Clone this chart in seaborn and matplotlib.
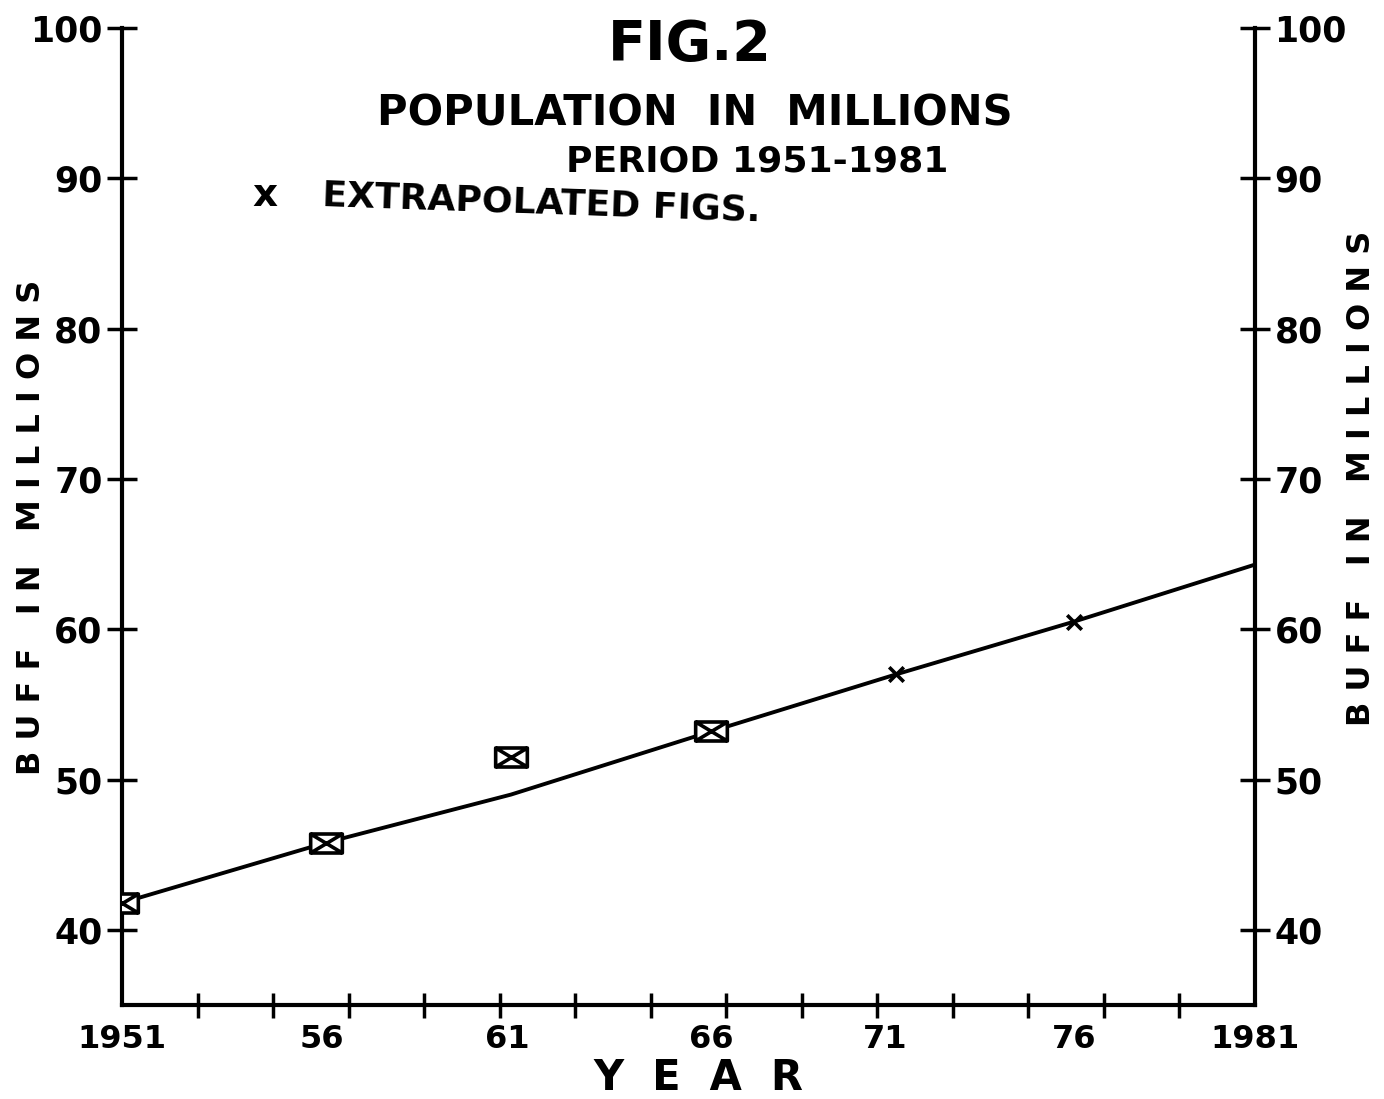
import pandas as pd
import matplotlib.pyplot as plt
from matplotlib.path import Path
import seaborn as sns

# years as they sit on the hand-drawn axis (spacing is a bit uneven)
years = [1951, 1956.4, 1961.3, 1966.6, 1971.5, 1976.2, 1981]
trend = [41.8, 45.8, 49.0, 53.2, 57.0, 60.5, 64.3]

census_years = [1951, 1956.4, 1961.3, 1966.6]
census_values = [41.8, 45.8, 51.5, 53.2]

extra_years = [1971.5, 1976.2]
extra_values = [57.0, 60.5]

year_ticks = [1951, 1956.3, 1961.2, 1966.6, 1971.2, 1976.2, 1981]
year_labels = ["1951", "56", "61", "66", "71", "76", "1981"]
minor_years = list(range(1951, 1982, 2))
y_ticks = [40, 50, 60, 70, 80, 90, 100]

sns.set_style("white")
plt.rcParams["font.family"] = ["DejaVu Sans"]
plt.rcParams["font.weight"] = "bold"
plt.rcParams["text.color"] = "black"
plt.rcParams["xtick.color"] = "black"
plt.rcParams["ytick.color"] = "black"

# box with a cross inside, the census-figure marker
box_x = Path(
    [(-1, -0.6), (1, -0.6), (1, 0.6), (-1, 0.6), (-1, -0.6),
     (-1, -0.6), (1, 0.6), (-1, 0.6), (1, -0.6)],
    [Path.MOVETO, Path.LINETO, Path.LINETO, Path.LINETO, Path.CLOSEPOLY,
     Path.MOVETO, Path.LINETO, Path.MOVETO, Path.LINETO],
)

trend_df = pd.DataFrame({"year": years, "value": trend})
census_df = pd.DataFrame({"year": census_years, "value": census_values})
extra_df = pd.DataFrame({"year": extra_years, "value": extra_values})

fig = plt.figure(figsize=(13.84, 10.99), dpi=100)
ax = fig.add_axes([122 / 1384, 1 - 1005 / 1099, (1255 - 122) / 1384, (1005 - 28) / 1099])

sns.lineplot(data=trend_df, x="year", y="value", ax=ax, color="black", linewidth=2.8)
sns.scatterplot(data=census_df, x="year", y="value", ax=ax, marker=box_x, s=520,
                facecolor="white", edgecolor="black", linewidth=2.6, zorder=5)
sns.scatterplot(data=extra_df, x="year", y="value", ax=ax, marker="x", s=110,
                color="black", linewidth=2.6, zorder=5)

ax.set_xlim(1951, 1981)
ax.set_ylim(35, 100)
ax.set_xlabel("")
ax.set_ylabel("")

for side in ["left", "right", "bottom"]:
    ax.spines[side].set_linewidth(3)
    ax.spines[side].set_color("black")
ax.spines["top"].set_visible(False)

ax.set_xticks(year_ticks)
ax.set_xticklabels(year_labels)
ax.set_xticks(minor_years, minor=True)
ax.tick_params(axis="x", which="major", length=0, pad=14, labelsize=23)
ax.tick_params(axis="x", which="minor", direction="inout", length=18, width=2.5,
               bottom=True)

ax.set_yticks(y_ticks)
ax.set_yticklabels([str(v) for v in y_ticks])
ax.tick_params(axis="y", direction="inout", length=22, width=2.5, labelsize=25,
               left=True, right=True, labelleft=True, labelright=True, pad=3)

fig.text(690 / 1384, 1 - 45 / 1099, "FIG.2", fontsize=40, fontweight="bold",
         ha="center", va="center")
fig.text(695 / 1384, 1 - 113 / 1099, "POPULATION  IN  MILLIONS", fontsize=30,
         fontweight="bold", ha="center", va="center")
fig.text(757 / 1384, 1 - 162 / 1099, "PERIOD 1951-1981", fontsize=26,
         fontweight="bold", ha="center", va="center")
fig.text(265 / 1384, 1 - 195 / 1099, "x", fontsize=28, fontweight="bold",
         ha="center", va="center")
fig.text(322 / 1384, 1 - 203 / 1099, "EXTRAPOLATED FIGS.", fontsize=26,
         fontweight="bold", ha="left", va="center", rotation=-2)

ylab = "B U F F   I N   M I L L I O N S"
fig.text(32 / 1384, 1 - 527 / 1099, ylab, fontsize=23,
         fontweight="bold", ha="center", va="center", rotation=90)
fig.text(1362 / 1384, 1 - 478 / 1099, ylab, fontsize=23,
         fontweight="bold", ha="center", va="center", rotation=90)
fig.text(698 / 1384, 1 - 1078 / 1099, "Y  E  A  R", fontsize=30,
         fontweight="bold", ha="center", va="center")

fig.savefig("out.png", dpi=100)
